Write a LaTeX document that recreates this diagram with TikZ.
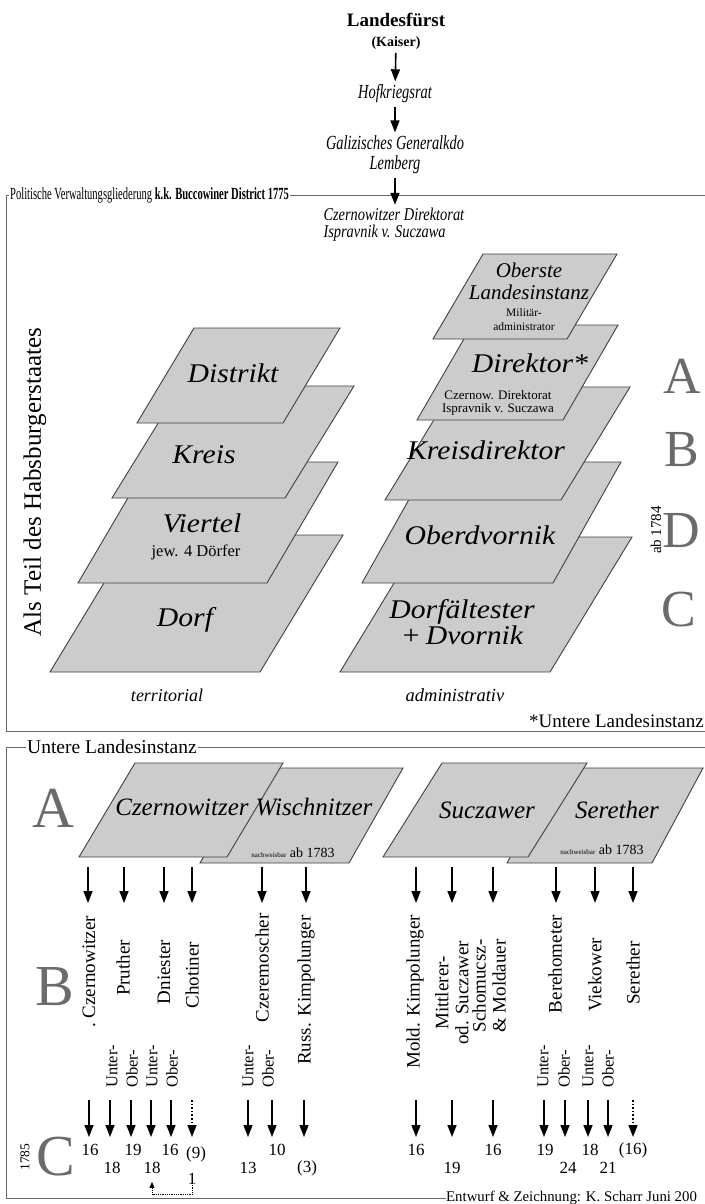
\documentclass[tikz,border=0pt]{standalone}
\usepackage{fontspec}
\setmainfont{Liberation Serif}
\usepackage{graphicx}
\usetikzlibrary{arrows.meta}

\newcommand{\fsz}[2]{\fontsize{#1}{#2}\selectfont}
\newcommand{\condtext}[1]{\scalebox{0.62}[1]{#1}}
\newcommand{\narrowit}[1]{\scalebox{0.72}[1]{#1}}
\newcommand{\widen}[1]{\scalebox{1.1}[1]{#1}}
\newcommand{\drawplate}[5]{\draw[plate] (#1,#2) -- ++(#3,0) -- ++(#5,-#4) -- ++(-#3,0) -- cycle;}

\tikzset{
  plate/.style={fill=gray!40, draw=black!75, line width=0.9pt, line join=miter},
  frameline/.style={draw=black!60, line width=0.9pt},
  framelabel/.style={fill=white, inner sep=1pt, anchor=west},
  arr/.style={line width=1.6pt, -{Triangle[length=12pt,width=9pt]}},
  dotarr/.style={line width=1.6pt, dotted, -{Triangle[length=12pt,width=9pt]}},
  lvl/.style={font=\fsz{27}{30}\itshape, align=center},
  bname/.style={font=\fsz{25}{25}\itshape},
  gletter/.style={font=\fsz{52}{52}, text=black!58, inner sep=0pt},
  colname/.style={rotate=90, font=\fsz{19}{20}, align=center, inner sep=0pt},
  uo/.style={rotate=90, anchor=west, font=\fsz{16.5}{17}, inner sep=0pt},
  num/.style={font=\fsz{17}{17}, inner sep=0pt},
}

\begin{document}
\begin{tikzpicture}[x=1pt, y=-1pt]
    \useasboundingbox (0,0) rectangle (704,1204);

    % Rahmen
    \draw[frameline] (6,195) rectangle (720,731);
    \node[framelabel, font=\fsz{17}{17}] (polhead) at (9,195) {\condtext{Politische Verwaltungsgliederung \textbf{k.k. Buccowiner District 1775}}};
    \node[framelabel, font=\fsz{19.5}{20}] (unthead) at (26,747) {Untere Landesinstanz};
    \node[anchor=west, inner sep=0pt, font=\fsz{14.8}{15}] (credit) at (446,1198) {Entwurf \& Zeichnung: K. Scharr Juni 200};
    \draw[frameline] (720,747) -- (unthead.east) (unthead.west) -- (6,747) -- (6,1198) -- (credit.west);
    \node[anchor=east, inner sep=0pt, font=\fsz{19}{19}] (fnote) at (704,721) {*Untere Landesinstanz};

    % Spitze
    \node[font=\fsz{19}{19}\bfseries] (fuerst) at (396,20) {Landesfürst};
    \node[font=\fsz{14}{14}\bfseries] (kaiser) at (396,43) {(Kaiser)};
    \node[font=\fsz{20}{20}\itshape] (hofkr) at (395,94) {\narrowit{Hofkriegsrat}};
    \node[font=\fsz{20}{20}\itshape, align=center] (galiz) at (395,155) {\narrowit{Galizisches Generalkdo}\\\narrowit{Lemberg}};
    \node[font=\fsz{18}{17}\itshape, align=left, anchor=west] (czdir) at (320,225) {\scalebox{0.8}[1]{Czernowitzer Direktorat}\\\scalebox{0.8}[1]{Ispravnik v. Suczawa}};
    \draw[arr] (kaiser) -- (hofkr);
    \draw[arr] (hofkr) -- (galiz);
    \draw[arr] (galiz) -- (galiz |- czdir.north);

    \node[rotate=90, font=\fsz{25}{25}, inner sep=0pt] (habsb) at (35,482) {Als Teil des Habsburgerstaates};

    % territorial
    \drawplate{50}{672}{210}{137}{83}
    \drawplate{78}{583}{189}{121}{71}
    \drawplate{112}{498}{173}{112}{69}
    \drawplate{137}{423}{146}{95}{57}
    \node[lvl] (distrikt) at (233,373) {\widen{Distrikt}};
    \node[lvl] (kreis) at (204,455) {\widen{Kreis}};
    \node[lvl] (viertel) at (202,523) {\widen{Viertel}};
    \node[font=\fsz{16.5}{17}] (jew) at (196,552) {jew. 4 Dörfer};
    \node[lvl] (dorf) at (185,620) {\widen{Dorf}};
    \node[font=\fsz{18}{18}\itshape] (terr) at (167,695) {territorial};

    % administrativ
    \drawplate{340}{672}{210}{135}{82}
    \drawplate{362}{583}{191}{121}{68}
    \drawplate{385}{500}{176}{113}{69}
    \drawplate{417}{420}{146}{95}{55}
    \drawplate{433}{339}{134}{85}{50}
    \node[font=\fsz{21}{22}\itshape, align=center] (oberste) at (529,281) {Oberste\\Landesinstanz};
    \node[font=\fsz{11.5}{14}, align=center] (milad) at (524,320) {Militär-\\administrator};
    \node[lvl] (direktor) at (530,363) {\widen{Direktor*}};
    \node[font=\fsz{13}{13.5}, align=center] (czdirk) at (498,403) {Czernow. Direktorat\\Ispravnik v. Suczawa};
    \node[lvl] (kreisdir) at (486,450) {\widen{Kreisdirektor}};
    \node[lvl] (oberdv) at (480,535) {\widen{Oberdvornik}};
    \node[lvl, font=\fsz{27}{26}\itshape] (dorfalt) at (462,622) {\widen{Dorfältester}\\\widen{+\,Dvornik}};
    \node[font=\fsz{18.5}{18.5}\itshape] (admin) at (455,695) {administrativ};

    \node[gletter] (ra) at (682,376) {A};
    \node[gletter] (rb) at (682,450) {B};
    \node[gletter] (rd) at (681,531) {D};
    \node[gletter] (rc) at (679,610) {C};
    \node[rotate=90, font=\fsz{15}{15}, inner sep=0pt] (ab84) at (656,530) {ab 1784};

    % Untere Landesinstanz
    \drawplate{200}{863}{149}{95}{54}
    \drawplate{79}{857}{148}{94}{56}
    \drawplate{507}{863}{145}{95}{51}
    \drawplate{383}{857}{145}{94}{59}
    \node[bname] (czw) at (182,807) {Czernowitzer};
    \node[bname] (wis) at (314,807) {Wischnitzer};
    \node[bname] (suc) at (487,810) {Suczawer};
    \node[bname] (ser) at (617,810) {Serether};
    \node[font=\fsz{14}{14}] (nw1) at (293,853) {{\fsz{7}{7}nachweisbar} ab 1783};
    \node[font=\fsz{14}{14}] (nw2) at (602,850) {{\fsz{7}{7}nachweisbar} ab 1783};

    \node[gletter, font=\fsz{58}{58}] (la) at (53,808) {A};
    \node[gletter, font=\fsz{58}{58}] (lb) at (55,987) {B};
    \node[gletter, font=\fsz{58}{58}] (lc) at (56,1157) {C};
    \node[rotate=90, font=\fsz{13.5}{14}, inner sep=0pt] (y85) at (25,1157) {1785};

    \foreach \x [count=\i] in {88,124,164,192,262,306,416,452,493,556,595,633}{
        \coordinate (bs\i) at (\x,867);
        \coordinate (be\i) at (\x,903);
        \draw[arr] (bs\i) -- (be\i);
    }

    \node[colname] (czern) at (89,972) {.\ Czernowitzer};
    \node[colname] (pruth) at (123,968) {Pruther};
    \node[colname] (dnies) at (164,972) {Dniester};
    \node[colname] (choti) at (192,975) {Chotiner};
    \node[colname] (czere) at (262,968) {Czeremoscher};
    \node[colname] (rkimp) at (306,990) {Russ. Kimpolunger};
    \node[colname] (mkimp) at (415,992) {Mold. Kimpolunger};
    \node[colname] (suczw) at (452,993) {Mittlerer-\\od. Suczawer};
    \node[colname] (schom) at (489,986) {Schomucsz-\\\& Moldauer};
    \node[colname] (bereh) at (555,964) {Berehometer};
    \node[colname] (vieko) at (595,975) {Viekower};
    \node[colname] (seret) at (633,973) {Serether};

    \foreach \x/\t [count=\i] in {112/Unter-, 132/Ober-, 152/Unter-, 172/Ober-, 248/Unter-, 268/Ober-, 543/Unter-, 564/Ober-, 588/Unter-, 608/Ober-}
        \node[uo] (uo\i) at (\x,1088) {\t};

    \foreach \x [count=\i] in {89,110,131,151,171,248,272,304,416,452,493,544,565,588,608}{
        \coordinate (cs\i) at (\x,1100);
        \coordinate (ce\i) at (\x,1137);
        \draw[arr] (cs\i) -- (ce\i);
    }
    \foreach \x [count=\i] in {192,633}{
        \coordinate (ds\i) at (\x,1100);
        \coordinate (de\i) at (\x,1137);
        \draw[dotarr] (ds\i) -- (de\i);
    }

    % Dörferzahlen 1785
    \foreach \x/\y/\t [count=\i] in {90/1150/16, 112/1168/18, 133/1150/19, 170/1150/16, 196/1154/{(9)}, 248/1168/13, 277/1150/10, 307/1168/{(3)}, 416/1150/16, 452/1168/19, 493/1150/16, 545/1150/19, 568/1168/24, 590/1150/18, 608/1168/21, 633/1150/{(16)}}
        \node[num] (n\i) at (\x,\y) {\t};
    \node[num] (dn18) at (152,1168) {18};
    \node[num] (one) at (192,1179) {1};
    \draw[densely dotted, line width=0.8pt, shorten >=8pt, -{Triangle[length=6pt,width=5pt]}] (one.south) -- ++(0,10) -| (dn18.south);
\end{tikzpicture}
\end{document}
